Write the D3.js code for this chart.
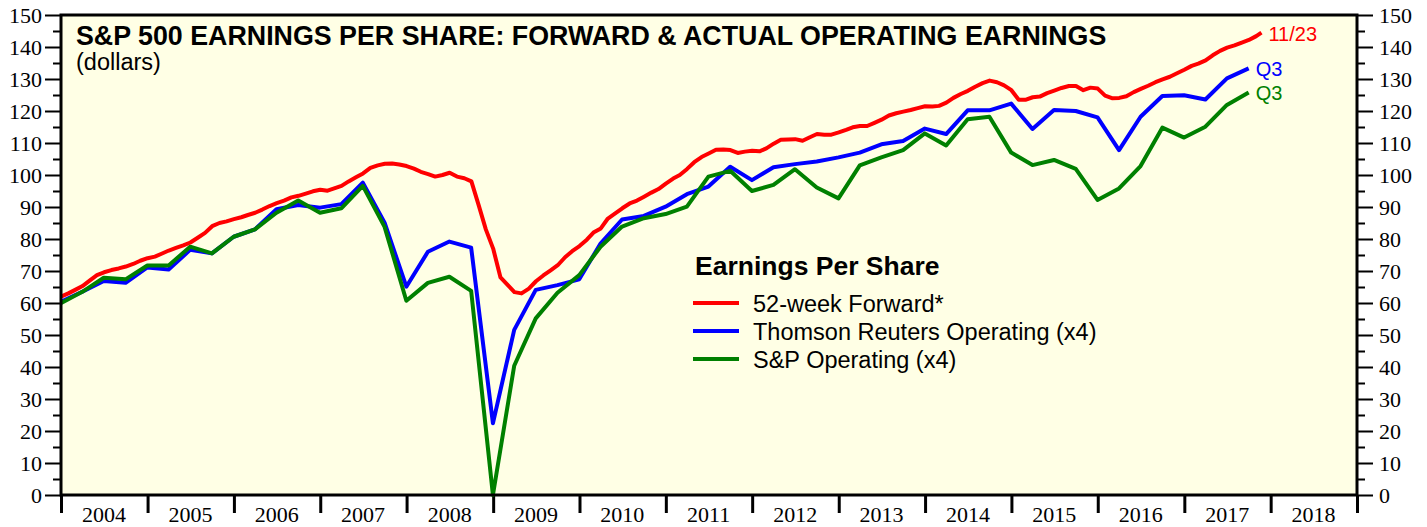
<!DOCTYPE html>
<html lang="en">
<head>
<meta charset="UTF-8">
<title>S&amp;P 500 Earnings Per Share</title>
<script src="https://d3js.org/d3.v7.min.js"></script>
<style>
  body { margin: 0; background: #fff; }
  .tick text { font-family: "Liberation Serif", "Times New Roman", serif; font-size: 22px; fill: #000; }
  .sans { font-family: "Liberation Sans", Arial, Helvetica, sans-serif; }
</style>
</head>
<body>
<svg id="chart" width="1427" height="527"></svg>
<script>
// quarterly operating EPS (x4), quarter ends Q4 2003 .. Q3 2017
const quarters = [
  "2003Q4",
  "2004Q1","2004Q2","2004Q3","2004Q4",
  "2005Q1","2005Q2","2005Q3","2005Q4",
  "2006Q1","2006Q2","2006Q3","2006Q4",
  "2007Q1","2007Q2","2007Q3","2007Q4",
  "2008Q1","2008Q2","2008Q3","2008Q4",
  "2009Q1","2009Q2","2009Q3","2009Q4",
  "2010Q1","2010Q2","2010Q3","2010Q4",
  "2011Q1","2011Q2","2011Q3","2011Q4",
  "2012Q1","2012Q2","2012Q3","2012Q4",
  "2013Q1","2013Q2","2013Q3","2013Q4",
  "2014Q1","2014Q2","2014Q3","2014Q4",
  "2015Q1","2015Q2","2015Q3","2015Q4",
  "2016Q1","2016Q2","2016Q3","2016Q4",
  "2017Q1","2017Q2","2017Q3"
];
const thomsonReuters = [
  60.4,
  63.5, 66.9, 66.3, 71.1,
  70.5, 76.6, 75.5, 80.7,
  83.0, 89.3, 90.6, 89.8,
  90.9, 97.6, 85.1, 65.1,
  76.0, 79.2, 77.3, 22.4,
  51.6, 64.1, 65.6, 67.4,
  78.6, 86.1, 87.2, 90.1,
  94.0, 96.4, 102.6, 98.4,
  102.4, 103.4, 104.2, 105.5,
  107.0, 109.6, 110.6, 114.5,
  112.8, 120.2, 120.2, 122.3,
  114.4, 120.3, 120.0, 118.0,
  107.8, 118.2, 124.7, 124.9,
  123.6, 130.2, 133.3
];
const spOperating = [
  59.9,
  63.5, 67.9, 67.4, 71.7,
  71.7, 77.6, 75.5, 80.7,
  83.0, 88.2, 92.0, 88.2,
  89.6, 96.6, 83.8, 60.7,
  66.3, 68.2, 63.8, 0.0,
  40.4, 55.2, 63.2, 68.7,
  77.6, 83.9, 86.5, 87.8,
  90.1, 99.5, 101.3, 95.0,
  96.9, 101.8, 96.1, 92.7,
  103.0, 105.5, 107.8, 113.0,
  109.2, 117.4, 118.2, 107.0,
  103.1, 104.7, 101.9, 92.2,
  95.8, 102.8, 114.8, 111.7,
  115.1, 121.9, 125.8
];

// 52-week forward EPS, monthly from Jan 2004, last reading 11/23/2017
const forwardStart = "2004-01-01";
const forwardMonthly = [
  62.0, 63.0, 64.1, 65.3, 67.0, 68.7, 69.6, 70.3, 70.8, 71.4, 72.2, 73.2,
  74.0, 74.5, 75.4, 76.4, 77.2, 78.0, 78.9, 80.4, 81.9, 84.0, 85.0, 85.5,
  86.2, 86.8, 87.5, 88.2, 89.2, 90.3, 91.2, 92.0, 93.0, 93.5, 94.2, 94.9,
  95.4, 95.1, 95.8, 96.6, 98.0, 99.3, 100.5, 102.2, 103.0, 103.5, 103.6, 103.3,
  102.8, 102.0, 101.0, 100.3, 99.5, 100.0, 100.7, 99.5, 99.0, 98.0, 90.5, 83.0,
  77.0, 68.0, 65.8, 63.4, 63.0, 64.5, 66.8, 68.6, 70.2, 71.8, 74.3, 76.2,
  77.8, 79.8, 82.0, 83.3, 86.4, 88.0, 89.6, 91.1, 92.0, 93.2, 94.5, 95.6,
  97.3, 98.9, 100.0, 101.9, 104.0, 105.6, 106.7, 107.9, 108.0, 107.8, 106.9, 107.3,
  107.6, 107.4, 108.3, 109.8, 111.0, 111.1, 111.2, 110.7, 111.8, 112.8, 112.6, 112.6,
  113.3, 114.1, 114.9, 115.3, 115.3, 116.3, 117.3, 118.6, 119.3, 119.8, 120.3, 120.9,
  121.5, 121.4, 121.6, 122.6, 124.1, 125.3, 126.3, 127.6, 128.7, 129.5, 129.0, 128.0,
  126.5, 123.5, 123.5, 124.3, 124.5, 125.6, 126.4, 127.2, 127.8, 127.8, 126.5, 127.3,
  127.0, 124.8, 124.0, 124.1, 124.6, 125.9, 126.9, 127.9, 129.0, 129.9, 130.7, 131.8,
  132.9, 134.1, 134.8, 135.8, 137.4, 138.8, 139.8, 140.5, 141.4, 142.2, 143.4
];
const forwardLastDate = "2017-11-23";
const forwardLast = 144.5;

const years = d3.range(2004, 2019);
const yTicks = d3.range(0, 151, 10);

const titleText = "S&P 500 EARNINGS PER SHARE: FORWARD & ACTUAL OPERATING EARNINGS";
const subtitleText = "(dollars)";
const legendTitle = "Earnings Per Share";
const seriesNames = ["52-week Forward*", "Thomson Reuters Operating (x4)", "S&P Operating (x4)"];
const seriesColors = ["#ff0000", "#0000ff", "#008000"];
const endLabels = ["11/23", "Q3", "Q3"];

// ---- build series
const parseQ = s => {
  const yr = +s.slice(0, 4), q = +s.slice(5);
  return d3.timeDay.offset(new Date(yr, q * 3, 1), -1);
};
const trData = quarters.map((q, i) => ({date: parseQ(q), value: thomsonReuters[i]}));
const spData = quarters.map((q, i) => ({date: parseQ(q), value: spOperating[i]}));
const fStart = d3.timeParse("%Y-%m-%d")(forwardStart);
const fwdData = forwardMonthly.map((v, i) => ({date: d3.timeMonth.offset(fStart, i), value: v}));
fwdData.push({date: d3.timeParse("%Y-%m-%d")(forwardLastDate), value: forwardLast});

const svg = d3.select("#chart");
const margin = {top: 15, right: 70, bottom: 32, left: 61};
const width = 1427 - margin.left - margin.right;
const height = 527 - margin.top - margin.bottom;

const x = d3.scaleTime()
  .domain([new Date(2004, 0, 1), new Date(2019, 0, 1)])
  .range([0, width]);
const y = d3.scaleLinear().domain([0, 150]).range([height, 0]);

const g = svg.append("g").attr("transform", `translate(${margin.left},${margin.top})`);

g.append("rect")
  .attr("width", width).attr("height", height)
  .attr("fill", "#ffffe5");

// left / right axes
const leftMinor = g.append("g")
  .call(d3.axisLeft(y).tickValues(d3.range(5, 150, 10)).tickSize(8).tickFormat(""));
const leftMajor = g.append("g")
  .call(d3.axisLeft(y).tickValues(yTicks).tickSize(16).tickPadding(3));
const rightMinor = g.append("g").attr("transform", `translate(${width},0)`)
  .call(d3.axisRight(y).tickValues(d3.range(5, 150, 10)).tickSize(8).tickFormat(""));
const rightMajor = g.append("g").attr("transform", `translate(${width},0)`)
  .call(d3.axisRight(y).tickValues(yTicks).tickSize(16).tickPadding(6));
[leftMinor, leftMajor, rightMinor, rightMajor].forEach(a => {
  a.select(".domain").remove();
  a.selectAll("line").attr("stroke", "#000").attr("stroke-width", 2);
});

// bottom axis: ticks at year boundaries, labels mid-year
const bottom = g.append("g").attr("transform", `translate(0,${height})`)
  .call(d3.axisBottom(x).tickValues(years.concat([2019]).map(yr => new Date(yr, 0, 1)))
    .tickSize(18).tickFormat(""));
bottom.select(".domain").remove();
bottom.selectAll("line").attr("stroke", "#000").attr("stroke-width", 3);

g.selectAll(".yearLabel")
  .data(years)
  .enter().append("text")
  .attr("class", "yearLabel")
  .attr("x", d => x(new Date(d, 6, 1)))
  .attr("y", height + 27)
  .attr("text-anchor", "middle")
  .style("font-family", "'Liberation Serif', 'Times New Roman', serif")
  .style("font-size", "22px")
  .text(d => d);

// lines
const line = d3.line().x(d => x(d.date)).y(d => y(d.value));
const series = [fwdData, trData, spData];
[1, 2, 0].forEach(i => {
  g.append("path")
    .datum(series[i])
    .attr("fill", "none")
    .attr("stroke", seriesColors[i])
    .attr("stroke-width", 4)
    .attr("stroke-linejoin", "round")
    .attr("d", line);
});

// frame
g.append("rect")
  .attr("width", width).attr("height", height)
  .attr("fill", "none").attr("stroke", "#000").attr("stroke-width", 3);

// end labels
series.forEach((s, i) => {
  const last = s[s.length - 1];
  g.append("text")
    .attr("class", "sans")
    .attr("x", x(last.date) + 7)
    .attr("y", y(last.value) + 8)
    .attr("fill", seriesColors[i])
    .style("font-size", "20px")
    .text(endLabels[i]);
});

// titles
g.append("text").attr("class", "sans")
  .attr("x", 15).attr("y", 30)
  .style("font-size", "26.8px").style("font-weight", "bold")
  .text(titleText);
g.append("text").attr("class", "sans")
  .attr("x", 15).attr("y", 55)
  .style("font-size", "23.5px")
  .text(subtitleText);

// legend
const legend = g.append("g").attr("transform", `translate(${632},${260})`);
legend.append("text").attr("class", "sans")
  .attr("x", 2).attr("y", 0)
  .style("font-size", "26.5px").style("font-weight", "bold")
  .text(legendTitle);
seriesNames.forEach((name, i) => {
  const row = legend.append("g").attr("transform", `translate(0,${37 + i * 28})`);
  row.append("line")
    .attr("x1", 0).attr("x2", 46)
    .attr("y1", -9).attr("y2", -9)
    .attr("stroke", seriesColors[i]).attr("stroke-width", 4);
  row.append("text").attr("class", "sans")
    .attr("x", 60).attr("y", 0)
    .style("font-size", "23.5px")
    .text(name);
});
</script>
</body>
</html>
